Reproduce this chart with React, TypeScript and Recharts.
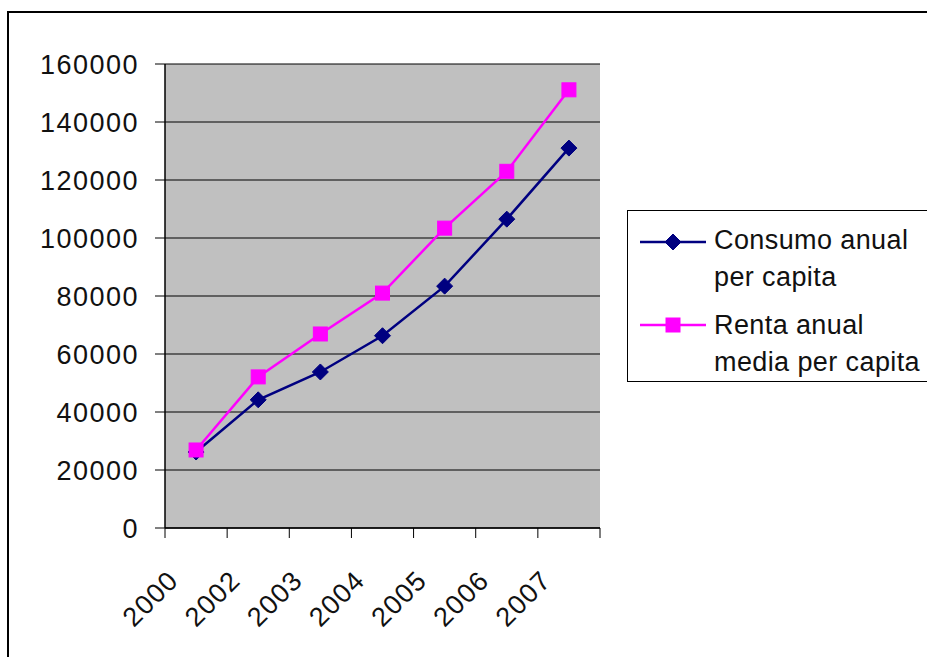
import React from 'react';
import { LineChart, Line, XAxis, YAxis, CartesianGrid } from 'recharts';

const years = ['2000', '2002', '2003', '2004', '2005', '2006', '2007'];
const consumo = [26200, 44200, 53800, 66300, 83400, 106500, 131000];
const renta = [26900, 52100, 66900, 81000, 103400, 123000, 151100];
const yTicks = [0, 20000, 40000, 60000, 80000, 100000, 120000, 140000, 160000];

const data = years.map((year, i) => ({ year, consumo: consumo[i], renta: renta[i] }));

const FONT = '"Liberation Sans", Arial, Helvetica, sans-serif';
const NAVY = '#000080';
const MAGENTA = '#FF00FF';
const BAND = 435 / years.length;

const Diamond = (props: any) => {
    const { cx, cy } = props;
    if (cx == null || cy == null) return null;
    const r = 8;
    return <polygon points={`${cx},${cy - r} ${cx + r},${cy} ${cx},${cy + r} ${cx - r},${cy}`} fill={NAVY} stroke={NAVY} />;
};

const Square = (props: any) => {
    const { cx, cy } = props;
    if (cx == null || cy == null) return null;
    return <rect x={cx - 7} y={cy - 7} width={14} height={14} fill={MAGENTA} stroke={MAGENTA} />;
};

const YearTick = (props: any) => {
    const { x, y, payload, index } = props;
    const left = x - BAND / 2;
    const ax = left + 15;
    const ay = y + 54;
    return (
        <g>
            <line x1={left} y1={y} x2={left} y2={y + 10} stroke="#000" strokeWidth={1} />
            {index === years.length - 1 && (
                <line x1={left + BAND} y1={y} x2={left + BAND} y2={y + 10} stroke="#000" strokeWidth={1} />
            )}
            <text
                x={ax}
                y={ay}
                textAnchor="end"
                transform={`rotate(-45, ${ax}, ${ay})`}
                fontSize={27}
                letterSpacing={1.3}
                fill="#111"
                fontFamily={FONT}
            >
                {payload.value}
            </text>
        </g>
    );
};

function LegendBox() {
    const textStyle: React.CSSProperties = { fontSize: 27, letterSpacing: 0.4, lineHeight: '37px', color: '#111' };
    return (
        <div
            style={{
                position: 'absolute',
                left: 618,
                top: 197,
                width: 320,
                height: 172,
                border: '1px solid #000',
                background: '#fff',
                fontFamily: FONT,
                boxSizing: 'border-box',
            }}
        >
            <div style={{ position: 'absolute', left: 12, top: 11, display: 'flex' }}>
                <svg width={66} height={30} style={{ marginTop: 7 }}>
                    <line x1={0} y1={13} x2={66} y2={13} stroke={NAVY} strokeWidth={2.5} />
                    <Diamond cx={33} cy={13} />
                </svg>
                <div style={{ ...textStyle, marginLeft: 8 }}>
                    Consumo anual
                    <br />
                    per capita
                </div>
            </div>
            <div style={{ position: 'absolute', left: 12, top: 96, display: 'flex' }}>
                <svg width={66} height={30} style={{ marginTop: 5 }}>
                    <line x1={0} y1={13} x2={66} y2={13} stroke={MAGENTA} strokeWidth={2.5} />
                    <Square cx={33} cy={13} />
                </svg>
                <div style={{ ...textStyle, marginLeft: 8 }}>
                    Renta anual
                    <br />
                    media per capita
                </div>
            </div>
        </div>
    );
}

export default function App() {
    return (
        <div
            style={{
                position: 'absolute',
                left: 7,
                top: 11,
                width: 920,
                height: 646,
                borderLeft: '2px solid #000',
                borderTop: '2px solid #000',
                boxSizing: 'border-box',
                overflow: 'hidden',
                background: '#fff',
            }}
        >
            <LineChart width={918} height={644} data={data} margin={{ top: 51, right: 327, bottom: 49, left: 6 }}>
                <CartesianGrid vertical={false} fill="#C0C0C0" stroke="#000" strokeWidth={1} />
                <XAxis
                    dataKey="year"
                    scale="band"
                    height={80}
                    interval={0}
                    tickSize={0}
                    tickMargin={0}
                    tickLine={false}
                    axisLine={{ stroke: '#000', strokeWidth: 1.5 }}
                    tick={<YearTick />}
                />
                <YAxis
                    domain={[0, 160000]}
                    ticks={yTicks}
                    interval={0}
                    width={150}
                    tickSize={10}
                    tickMargin={16}
                    axisLine={{ stroke: '#000', strokeWidth: 1.5 }}
                    tickLine={{ stroke: '#000' }}
                    tick={{ fontSize: 27, fill: '#111', fontFamily: FONT, letterSpacing: 1.5 }}
                />
                <YAxis
                    yAxisId="right"
                    orientation="right"
                    width={0}
                    domain={[0, 160000]}
                    tick={false}
                    tickLine={false}
                    axisLine={{ stroke: '#808080', strokeWidth: 2 }}
                />
                <Line
                    type="linear"
                    dataKey="consumo"
                    stroke={NAVY}
                    strokeWidth={2.5}
                    dot={<Diamond />}
                    activeDot={false}
                    isAnimationActive={false}
                />
                <Line
                    type="linear"
                    dataKey="renta"
                    stroke={MAGENTA}
                    strokeWidth={2.5}
                    dot={<Square />}
                    activeDot={false}
                    isAnimationActive={false}
                />
            </LineChart>
            <LegendBox />
        </div>
    );
}
